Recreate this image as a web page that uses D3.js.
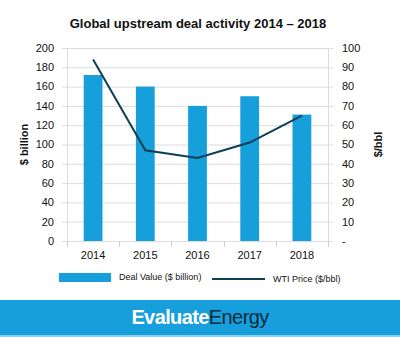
<!DOCTYPE html>
<html>
<head>
<meta charset="utf-8">
<script src="https://cdn.jsdelivr.net/npm/d3@7"></script>
<style>
  html, body { margin: 0; padding: 0; background: #fff; }
  svg { display: block; font-family: "Liberation Sans", Arial, Helvetica, sans-serif; }
</style>
</head>
<body>
<div id="chart"></div>
<script>
// Deal value and oil price by year
const years = ['2014', '2015', '2016', '2017', '2018'];
const dealValue = [172, 160, 140, 150, 131];
const wtiPrice = [94, 47, 43, 51, 65];
const leftTicks = [0, 20, 40, 60, 80, 100, 120, 140, 160, 180, 200];
const rightTicks = [0, 10, 20, 30, 40, 50, 60, 70, 80, 90, 100];

const width = 400;
const height = 337;
const margin = { top: 48, right: 72, bottom: 96, left: 67 };

const barColor = '#169fda';
const lineColor = '#0e3f55';
const gridColor = '#dcdcdc';

const svg = d3.select('#chart')
  .append('svg')
  .attr('width', width)
  .attr('height', height);

const x = d3.scaleBand()
  .domain(years)
  .range([margin.left, width - margin.right])
  .paddingInner(0.64)
  .paddingOuter(0.32);

const yLeft = d3.scaleLinear()
  .domain([0, 200])
  .range([height - margin.bottom, margin.top]);

const yRight = d3.scaleLinear()
  .domain([0, 100])
  .range([height - margin.bottom, margin.top]);

// title
svg.append('text')
  .attr('x', 198)
  .attr('y', 28)
  .attr('text-anchor', 'middle')
  .style('font-size', '13px')
  .style('font-weight', 'bold')
  .attr('fill', '#111')
  .text('Global upstream deal activity 2014 \u2013 2018');

// gridlines (extended 5px past each axis like tick marks)
svg.append('g')
  .selectAll('line')
  .data(leftTicks)
  .enter()
  .append('line')
  .attr('x1', margin.left - 5)
  .attr('x2', width - margin.right + 5)
  .attr('y1', (d) => yLeft(d) + 0.5)
  .attr('y2', (d) => yLeft(d) + 0.5)
  .attr('stroke', gridColor)
  .attr('stroke-width', 1);

// left and right axis lines
[margin.left, width - margin.right].forEach((xp) => {
  svg.append('line')
    .attr('x1', xp + 0.5)
    .attr('x2', xp + 0.5)
    .attr('y1', margin.top)
    .attr('y2', height - margin.bottom + 5)
    .attr('stroke', gridColor);
});

// category separators on the x axis
const bounds = years.map((d) => x(d) - x.step() * x.paddingInner() / 2);
bounds.push(width - margin.right);
svg.append('g')
  .selectAll('line')
  .data(bounds)
  .enter()
  .append('line')
  .attr('x1', (d) => Math.round(d) + 0.5)
  .attr('x2', (d) => Math.round(d) + 0.5)
  .attr('y1', height - margin.bottom)
  .attr('y2', height - margin.bottom + 6)
  .attr('stroke', '#cfcfcf');

// bars
svg.append('g')
  .selectAll('rect')
  .data(dealValue)
  .enter()
  .append('rect')
  .attr('x', (d, i) => x(years[i]))
  .attr('y', (d) => yLeft(d))
  .attr('width', x.bandwidth())
  .attr('height', (d) => yLeft(0) - yLeft(d))
  .attr('fill', barColor);

// WTI line
const line = d3.line()
  .x((d, i) => x(years[i]) + x.bandwidth() / 2)
  .y((d) => yRight(d));

svg.append('path')
  .datum(wtiPrice)
  .attr('d', line)
  .attr('fill', 'none')
  .attr('stroke', lineColor)
  .attr('stroke-width', 2);

// left tick labels
svg.append('g')
  .selectAll('text')
  .data(leftTicks)
  .enter()
  .append('text')
  .attr('x', margin.left - 13)
  .attr('y', (d) => yLeft(d))
  .attr('dy', '0.35em')
  .attr('text-anchor', 'end')
  .style('font-size', '11px')
  .attr('fill', '#111')
  .text((d) => d);

// right tick labels, zero shown as a dash
svg.append('g')
  .selectAll('text')
  .data(rightTicks)
  .enter()
  .append('text')
  .attr('x', width - margin.right + 14)
  .attr('y', (d) => yRight(d))
  .attr('dy', '0.35em')
  .attr('text-anchor', 'start')
  .style('font-size', '11px')
  .attr('fill', '#111')
  .text((d) => (d === 0 ? '-' : d));

// year labels
svg.append('g')
  .selectAll('text')
  .data(years)
  .enter()
  .append('text')
  .attr('x', (d) => x(d) + x.bandwidth() / 2)
  .attr('y', height - margin.bottom + 18)
  .attr('text-anchor', 'middle')
  .style('font-size', '11px')
  .attr('fill', '#111')
  .text((d) => d);

// axis titles
svg.append('text')
  .attr('transform', `translate(28,${(yLeft(0) + yLeft(200)) / 2}) rotate(-90)`)
  .attr('text-anchor', 'middle')
  .style('font-size', '11px')
  .style('font-weight', 'bold')
  .attr('fill', '#111')
  .text('$ billion');

svg.append('text')
  .attr('transform', `translate(382,${(yRight(0) + yRight(100)) / 2}) rotate(-90)`)
  .attr('text-anchor', 'middle')
  .style('font-size', '11px')
  .style('font-weight', 'bold')
  .attr('fill', '#111')
  .text('$/bbl');

// legend
const legend = svg.append('g');
legend.append('rect')
  .attr('x', 59)
  .attr('y', 273)
  .attr('width', 52)
  .attr('height', 9)
  .attr('fill', barColor);
legend.append('text')
  .attr('x', 119)
  .attr('y', 277)
  .attr('dy', '0.35em')
  .style('font-size', '9px')
  .attr('fill', '#111')
  .text('Deal Value ($ billion)');
legend.append('line')
  .attr('x1', 212)
  .attr('x2', 265)
  .attr('y1', 279)
  .attr('y2', 279)
  .attr('stroke', lineColor)
  .attr('stroke-width', 2);
legend.append('text')
  .attr('x', 273)
  .attr('y', 279)
  .attr('dy', '0.35em')
  .style('font-size', '9px')
  .attr('fill', '#111')
  .text('WTI Price ($/bbl)');

// brand banner
svg.append('rect')
  .attr('x', 0)
  .attr('y', 300)
  .attr('width', width)
  .attr('height', 35)
  .attr('fill', '#169fda');
svg.append('rect')
  .attr('x', 0)
  .attr('y', 335)
  .attr('width', width)
  .attr('height', 2)
  .attr('fill', '#8fd0ee');

const brand = svg.append('text')
  .attr('x', 200)
  .attr('y', 324)
  .attr('text-anchor', 'middle')
  .style('font-size', '20px')
  .style('letter-spacing', '-0.6px');
brand.append('tspan')
  .attr('fill', '#fff')
  .style('font-weight', 'bold')
  .text('Evaluate');
brand.append('tspan')
  .attr('fill', '#0b2a3a')
  .text('Energy');
</script>
</body>
</html>
